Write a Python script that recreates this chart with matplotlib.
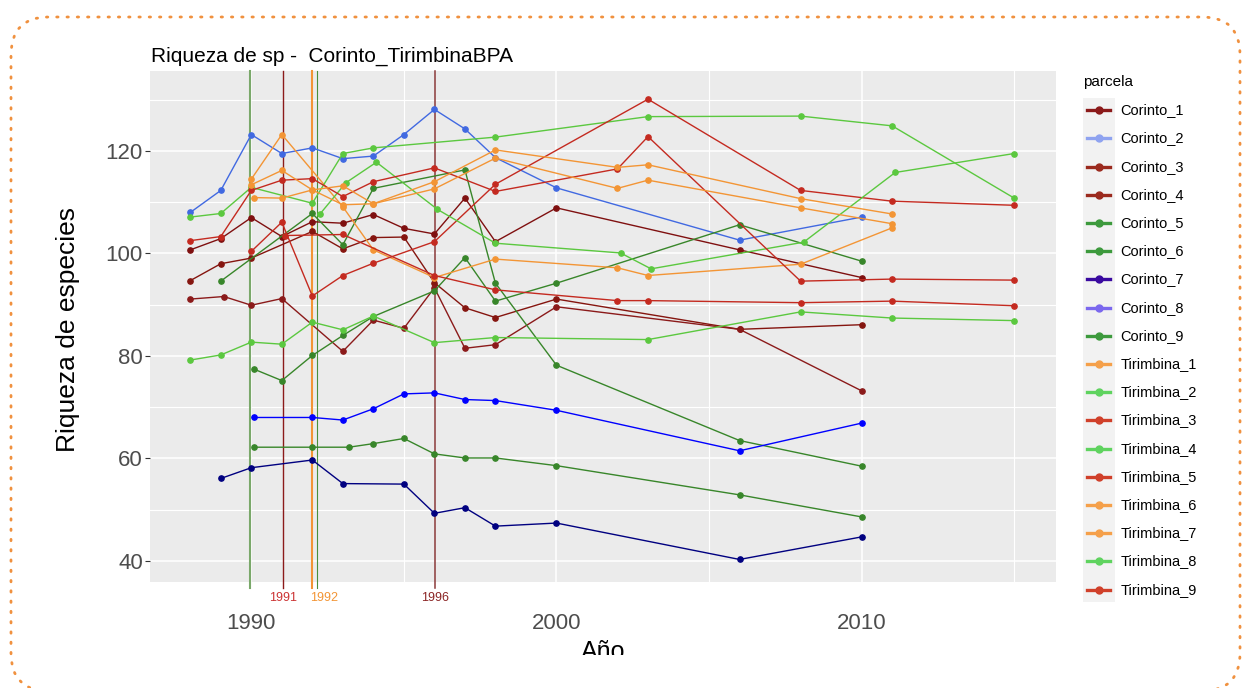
import matplotlib
matplotlib.use("Agg")
import matplotlib.pyplot as plt
from matplotlib.lines import Line2D
from matplotlib.patches import FancyBboxPatch, Rectangle
from matplotlib.transforms import IdentityTransform, Bbox

plt.rcParams['font.family'] = ['Liberation Sans', 'DejaVu Sans']

W, H = 1246, 688

# species richness per plot (parcela) and census year
corinto_1_years = [1988, 1989, 1990, 1991, 1992, 1993, 1994, 1995, 1996, 1997, 1998, 2000, 2006, 2010]
corinto_1_vals = [100.7, 102.9, 107.0, 103.3, 106.2, 105.9, 107.6, 104.9, 103.8, 110.8, 102.3, 108.9, 100.7, 95.3]

corinto_2_years = [1988, 1989, 1990, 1991, 1992, 1993, 1994, 1995, 1996, 1997, 1998, 2000, 2006, 2010]
corinto_2_vals = [108.0, 112.3, 123.2, 119.5, 120.6, 118.5, 119.0, 123.2, 128.1, 124.3, 118.7, 112.8, 102.6, 107.1]

corinto_3_years = [1988, 1989, 1990, 1992, 1993, 1994, 1995, 1996, 1997, 1998, 2000, 2006, 2010]
corinto_3_vals = [94.7, 98.0, 99.1, 104.3, 100.9, 103.1, 103.2, 94.3, 89.4, 87.5, 91.1, 85.2, 86.1]

corinto_4_years = [1988, 1989.1, 1990, 1991, 1993, 1994, 1995, 1996, 1997, 1998, 2000, 2006, 2010]
corinto_4_vals = [91.1, 91.6, 89.9, 91.2, 80.9, 87.0, 85.4, 93.3, 81.5, 82.2, 89.6, 85.2, 73.2]

corinto_5_years = [1989, 1992, 1993, 1994, 1997, 1998, 2000, 2006, 2010]
corinto_5_vals = [94.6, 107.8, 101.7, 112.7, 116.3, 94.2, 78.2, 63.5, 58.5]

corinto_6_years = [1990.1, 1991, 1992, 1993, 1994, 1996, 1997, 1998, 2000, 2006, 2010]
corinto_6_vals = [77.4, 75.2, 80.1, 84.0, 87.7, 92.7, 99.2, 90.7, 94.2, 105.6, 98.5]

corinto_7_years = [1989, 1990, 1992, 1993, 1995, 1996, 1997, 1998, 2000, 2006, 2010]
corinto_7_vals = [56.1, 58.2, 59.7, 55.1, 55.0, 49.3, 50.4, 46.8, 47.4, 40.3, 44.7]

corinto_8_years = [1990.1, 1992, 1993, 1994, 1995, 1996, 1997, 1998, 2000, 2006, 2010]
corinto_8_vals = [68.0, 68.0, 67.5, 69.7, 72.6, 72.8, 71.5, 71.3, 69.4, 61.5, 66.9]

corinto_9_years = [1990.1, 1992, 1993.2, 1994, 1995, 1996, 1997, 1998, 2000, 2006, 2010]
corinto_9_vals = [62.2, 62.2, 62.2, 62.9, 63.9, 60.9, 60.1, 60.1, 58.6, 52.9, 48.6]

tirimbina_1_years = [1990, 1991, 1993, 1994, 1996, 1998, 2002, 2003, 2008, 2011]
tirimbina_1_vals = [114.5, 123.2, 109.1, 100.7, 95.3, 98.9, 97.2, 95.7, 97.9, 105.0]

tirimbina_2_years = [1988, 1989, 1990, 1992, 1993, 1994, 1998, 2003, 2008, 2011, 2015]
tirimbina_2_vals = [107.1, 107.8, 112.9, 109.8, 119.5, 120.6, 122.7, 126.7, 126.8, 124.9, 110.8]

tirimbina_3_years = [1990, 1991, 1992, 1993, 1994, 1996, 1998, 2003, 2008, 2011, 2015]
tirimbina_3_vals = [100.4, 106.1, 91.7, 95.7, 98.1, 102.3, 113.5, 130.1, 112.3, 110.2, 109.4]

tirimbina_4_years = [1992.25, 1993.1, 1994.1, 1996.1, 1998, 2002.1, 2003.1, 2008.1, 2011.1, 2015]
tirimbina_4_vals = [107.7, 113.8, 117.8, 108.6, 102.0, 100.1, 97.0, 102.2, 115.8, 119.5]

tirimbina_5_years = [1988, 1989, 1990, 1991, 1992, 1993, 1994, 1996, 1998, 2002, 2003, 2008, 2011, 2015]
tirimbina_5_vals = [102.5, 103.3, 112.3, 114.3, 114.6, 111.1, 114.0, 116.7, 112.1, 116.5, 122.8, 94.6, 95.0, 94.8]

tirimbina_6_years = [1990, 1991, 1992, 1993, 1994, 1996, 1998, 2002, 2003, 2008, 2011]
tirimbina_6_vals = [113.4, 116.2, 112.4, 113.2, 109.7, 114.0, 120.2, 116.8, 117.3, 110.7, 107.7]

tirimbina_7_years = [1990.1, 1991, 1992, 1993, 1994, 1996, 1998, 2002, 2003, 2008, 2011]
tirimbina_7_vals = [110.9, 110.8, 112.4, 109.5, 109.7, 112.6, 118.6, 112.7, 114.3, 108.9, 105.8]

tirimbina_8_years = [1988, 1989, 1990, 1991, 1992, 1993, 1994, 1996, 1998, 2003, 2008, 2011, 2015]
tirimbina_8_vals = [79.2, 80.2, 82.7, 82.3, 86.6, 85.1, 87.8, 82.6, 83.6, 83.2, 88.6, 87.4, 86.9]

tirimbina_9_years = [1991.1, 1993, 1996, 1998, 2002, 2003, 2008, 2011, 2015]
tirimbina_9_vals = [103.5, 103.7, 95.7, 92.9, 90.8, 90.8, 90.4, 90.7, 89.8]

parcelas = ['Corinto_1', 'Corinto_2', 'Corinto_3', 'Corinto_4', 'Corinto_5', 'Corinto_6',
            'Corinto_7', 'Corinto_8', 'Corinto_9', 'Tirimbina_1', 'Tirimbina_2', 'Tirimbina_3',
            'Tirimbina_4', 'Tirimbina_5', 'Tirimbina_6', 'Tirimbina_7', 'Tirimbina_8', 'Tirimbina_9']
years = [corinto_1_years, corinto_2_years, corinto_3_years, corinto_4_years, corinto_5_years,
         corinto_6_years, corinto_7_years, corinto_8_years, corinto_9_years, tirimbina_1_years,
         tirimbina_2_years, tirimbina_3_years, tirimbina_4_years, tirimbina_5_years,
         tirimbina_6_years, tirimbina_7_years, tirimbina_8_years, tirimbina_9_years]
values = [corinto_1_vals, corinto_2_vals, corinto_3_vals, corinto_4_vals, corinto_5_vals,
          corinto_6_vals, corinto_7_vals, corinto_8_vals, corinto_9_vals, tirimbina_1_vals,
          tirimbina_2_vals, tirimbina_3_vals, tirimbina_4_vals, tirimbina_5_vals,
          tirimbina_6_vals, tirimbina_7_vals, tirimbina_8_vals, tirimbina_9_vals]

line_colors = ['#7f1010', '#4169e1', '#85150f', '#8b1a1a', '#38862a', '#38862a',
               '#000080', '#0000ff', '#38862a', '#f39535', '#5bc83f', '#c42a20',
               '#5bc83f', '#c42a20', '#f39535', '#f39535', '#5bc83f', '#c42a20']
legend_colors = ['#8b1a1a', '#8fa3f0', '#9b2a1e', '#9b2a1e', '#3d9a3d', '#3d9a3d',
                 '#3a0aa0', '#7b68ee', '#3d9a3d', '#f5a04a', '#5fd35f', '#d0402a',
                 '#5fd35f', '#d0402a', '#f5a04a', '#f5a04a', '#5fd35f', '#d0402a']

# reference lines (year, colour, width, label)
ref_years = [1989.97, 1991.04, 1991.98, 1992.14, 1996.01]
ref_colors = ['#7aa86a', '#8b1a1a', '#f39535', '#4a8f3a', '#8b3a3a']
ref_widths = [1.5, 1.0, 1.5, 0.8, 1.1]
ref_labels = ['', '1991', '1992', '', '1996']
ref_label_colors = ['', '#cc3333', '#f39535', '', '#8b2525']
ref_label_x = [1990, 1991.04, 1992.37, 1992.14, 1996.01]

fig = plt.figure(figsize=(W / 100, H / 100), dpi=100)
fig.patch.set_facecolor('white')

ax = fig.add_axes([150 / W, 1 - 582 / H, 906 / W, 511 / H])
ax.set_facecolor('#ebebeb')
for s in ax.spines.values():
    s.set_visible(False)
ax.set_xlim(1986.68, 2016.37)
ax.set_ylim(35.9, 135.6)
ax.set_xticks([1990, 2000, 2010])
ax.set_xticks([1995, 2005, 2015], minor=True)
ax.set_yticks([40, 60, 80, 100, 120])
ax.set_yticks([50, 70, 90, 110, 130], minor=True)
ax.grid(which='major', color='white', lw=1.1)
ax.grid(which='minor', color='white', lw=0.8)
ax.set_axisbelow(True)
ax.tick_params(axis='x', which='both', length=0, pad=22, labelsize=16, labelcolor='#4d4d4d')
ax.tick_params(axis='y', which='major', length=3.6, width=0.8, color='#333333', pad=1.5,
               labelsize=16, labelcolor='#4d4d4d')
ax.tick_params(axis='y', which='minor', length=0)

for x, c, lw in zip(ref_years, ref_colors, ref_widths):
    ax.axvline(x, ymin=-0.012, ymax=1, color=c, lw=lw, clip_on=False, zorder=1.5)

for yr, vals, c in zip(years, values, line_colors):
    ax.plot(yr, vals, color=c, lw=1.0, marker='o', ms=3.8, mfc=c, mec=c, zorder=3)

for lab, lx, lc in zip(ref_labels, ref_label_x, ref_label_colors):
    if lab:
        ax.text(lx, -0.031, lab, transform=ax.get_xaxis_transform(), ha='center',
                va='center', fontsize=9, color=lc)

fig.text(151 / W, 1 - 56 / H, 'Riqueza de sp -  Corinto_TirimbinaBPA', fontsize=15,
         ha='left', va='center', color='black')
fig.text(68 / W, 1 - 330 / H, 'Riqueza de especies', fontsize=19, rotation=90,
         ha='center', va='center', color='black')
xl = fig.text(603 / W, 1 - 652 / H, 'Año', fontsize=18, ha='center', va='center',
              color='black')
xl.set_clip_box(Bbox([[0, H - 655], [W, H]]))
xl.set_clip_on(True)

# legend
fig.text(1083 / W, 1 - 82 / H, 'parcela', fontsize=11, ha='left', va='center')
fig.add_artist(Rectangle((1083 / W, 1 - 602 / H), 32 / W, (602 - 98) / H,
                         transform=fig.transFigure, fc='#f2f2f2', ec='none'))
for i, (name, c) in enumerate(zip(parcelas, legend_colors)):
    y = 1 - (110.2 + i * 28.2) / H
    fig.add_artist(Line2D([1087 / W, 1110 / W], [y, y], color=c, lw=2.4,
                          transform=fig.transFigure))
    fig.add_artist(Line2D([1098.5 / W], [y], color=c, marker='o', ms=5, ls='none',
                          transform=fig.transFigure))
    fig.text(1120.5 / W, y, name, fontsize=10.5, ha='left', va='center')

# dotted rounded frame, built in pixel coordinates
box = FancyBboxPatch((11, -3), 1229, H - 14, boxstyle='round,pad=0,rounding_size=38')
outline = box.get_path().to_polygons()[0]
frame = Line2D(outline[:, 0], outline[:, 1], transform=IdentityTransform(),
               color='#f0913f', lw=2.0, linestyle=(0, (0.5, 3.2)),
               dash_capstyle='round')
fig.add_artist(frame)

fig.savefig('out.png', dpi=100)
